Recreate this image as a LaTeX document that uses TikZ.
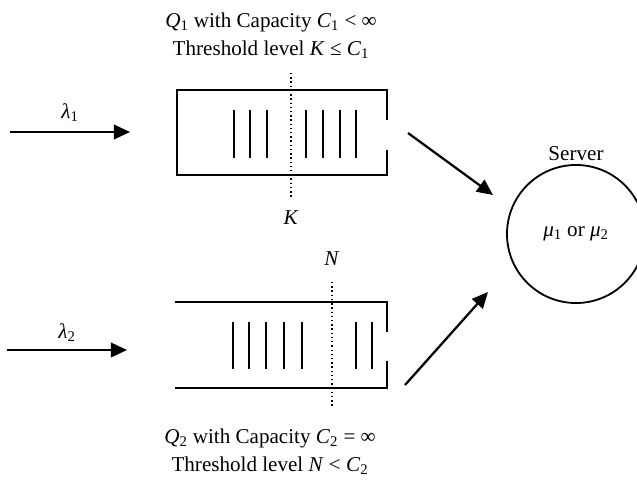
\documentclass[tikz,border=0pt]{standalone}
\usepackage{fontspec}
\setmainfont{Liberation Serif}
\usetikzlibrary{arrows.meta,positioning}
\newcommand{\qv}[2]{\textit{#1}\textsubscript{#2}}

\begin{document}
\begin{tikzpicture}[
  x=0.025cm, y=-0.025cm,
  font=\fontsize{15}{20}\selectfont,
  queueline/.style={line width=1.6pt},
  itemline/.style={line width=1.3pt},
  threshline/.style={line width=1pt, dotted},
  flowarrow/.style={line width=1.6pt, -{Triangle[length=0.4cm, width=0.36cm]}},
  servernode/.style={circle, draw, line width=1.3pt, minimum size=3.45cm, inner sep=0pt},
  textnode/.style={align=center, inner sep=0pt}
]
\useasboundingbox (0,0) rectangle (637,493);

% Queue 1 (finite capacity)
\draw[queueline] (387,120) -- (387,90) -- (177,90) -- (177,175) -- (387,175) -- (387,150);
\foreach \x in {234,250,267,306,323,340,356}
  \draw[itemline] (\x,110) -- (\x,158);
\draw[threshline] (291,73) -- (291,198);
\node (K) at (291,218) {\textit{K}};

% Queue 2 (infinite capacity)
\draw[queueline] (175,302) -- (387,302) -- (387,332);
\draw[queueline] (175,388) -- (387,388) -- (387,361);
\foreach \x in {233,249,266,284,302,356,372}
  \draw[itemline] (\x,322) -- (\x,369);
\draw[threshline] (332,282) -- (332,407);
\node (N) at (332,259) {\textit{N}};

% Labels
\node[textnode] (q1text) at (271,36) {\qv{Q}{1} with Capacity \qv{C}{1} < ∞\\Threshold level \textit{K} ≤ \qv{C}{1}};
\node[textnode] (q2text) at (270,452) {\qv{Q}{2} with Capacity \qv{C}{2} = ∞\\Threshold level \textit{N} < \qv{C}{2}};

% Server
\node[servernode] (server) at (576,234) {\qv{μ}{1} or \qv{μ}{2}};
\node[above=1pt of server, inner sep=1pt] (srvlabel) {Server};

% Arrivals
\coordinate (in1) at (10,132);
\coordinate (q1in) at (130,132);
\coordinate (in2) at (7,350);
\coordinate (q2in) at (127,350);
\draw[flowarrow] (in1) -- node[above=3pt] {\qv{λ}{1}} (q1in);
\draw[flowarrow] (in2) -- node[above=2pt] {\qv{λ}{2}} (q2in);

% Departures to server
\coordinate (q1out) at (408,133);
\coordinate (s1) at (493,195);
\coordinate (q2out) at (405,385);
\coordinate (s2) at (488,292);
\draw[flowarrow] (q1out) -- (s1);
\draw[flowarrow] (q2out) -- (s2);

\end{tikzpicture}
\end{document}
